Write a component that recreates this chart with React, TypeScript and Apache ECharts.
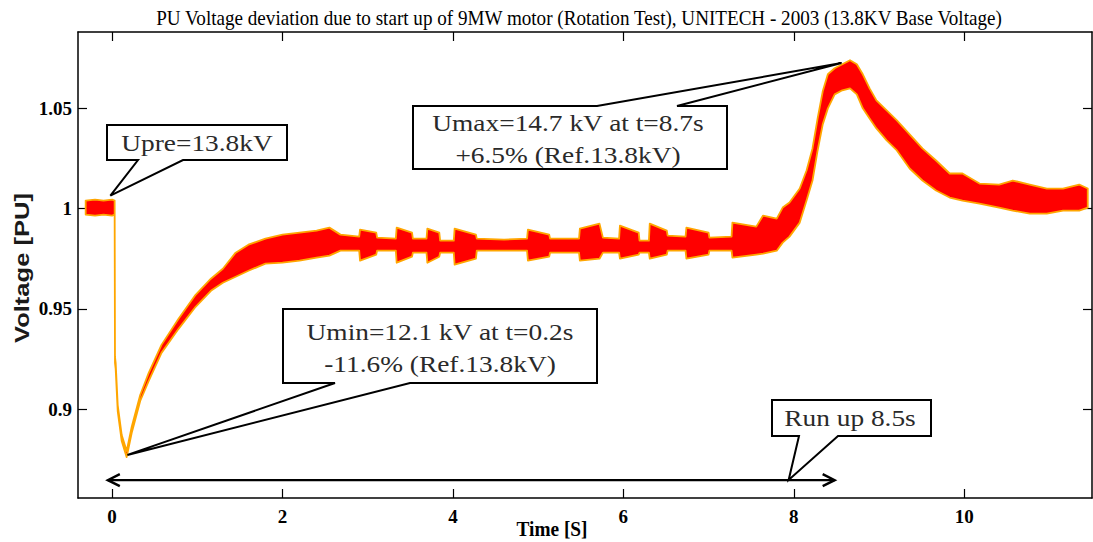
import React, { useEffect, useRef } from "react";
import * as echarts from "echarts";

// ---------- texts ----------
const TITLE =
  "PU Voltage deviation due to start up of 9MW motor (Rotation Test), UNITECH - 2003 (13.8KV Base Voltage)";
const X_NAME = "Time [S]";
const Y_NAME = "Voltage [PU]";

// ---------- axes ----------
const xMin = -0.4;
const xMax = 11.5;
const yMin = 0.8556;
const yMax = 1.0881;
const xTicks = [0, 2, 4, 6, 8, 10];
const yTicks = [0.9, 0.95, 1, 1.05];

// ---------- measured voltage band (upper / lower envelope of the noisy trace) ----------
const time = [
  -0.31, -0.2, -0.1, 0, 0.03, 0.034, 0.042, 0.066, 0.113, 0.171,
  0.23, 0.33, 0.43, 0.58, 0.78, 0.98, 1.16, 1.3, 1.45, 1.6,
  1.8, 2.0, 2.2, 2.4, 2.55, 2.68, 2.9, 2.91, 3.1, 3.11,
  3.33, 3.34, 3.52, 3.53, 3.69, 3.7, 3.84, 3.85, 4.01, 4.02,
  4.27, 4.28, 4.6, 4.87, 4.88, 5.13, 5.14, 5.48, 5.49, 5.72,
  5.76, 5.95, 5.96, 6.18, 6.19, 6.3, 6.31, 6.51, 6.52, 6.73,
  6.74, 7.0, 7.01, 7.27, 7.28, 7.56, 7.64, 7.8, 7.87, 7.95,
  8.07, 8.15, 8.22, 8.28, 8.34, 8.4, 8.48, 8.57, 8.66, 8.74,
  8.81, 8.89, 8.97, 9.09, 9.21, 9.36, 9.51, 9.67, 9.83, 9.98,
  10.18, 10.41, 10.57, 10.77, 10.97, 11.16, 11.35, 11.45,
];
const upper = [
  1.004, 1.0045, 1.004, 1.0045, 1.004, 0.926, 0.923, 0.902, 0.887, 0.879,
  0.891, 0.907, 0.918, 0.932, 0.945, 0.957, 0.965, 0.97, 0.978, 0.982,
  0.985, 0.987, 0.988, 0.989, 0.9905, 0.987, 0.986, 0.9895, 0.988, 0.9855,
  0.985, 0.9905, 0.988, 0.985, 0.985, 0.99, 0.988, 0.984, 0.984, 0.99,
  0.987, 0.985, 0.9845, 0.985, 0.9895, 0.987, 0.985, 0.985, 0.99, 0.9925,
  0.9855, 0.985, 0.9915, 0.988, 0.984, 0.984, 0.9925, 0.989, 0.9865, 0.986,
  0.9905, 0.988, 0.9855, 0.986, 0.993, 0.991, 0.9965, 0.995, 1.0005, 1.003,
  1.01, 1.019, 1.03, 1.045, 1.0585, 1.067, 1.07, 1.072, 1.074, 1.072,
  1.067, 1.06, 1.054, 1.049, 1.044, 1.037, 1.03, 1.024, 1.0175, 1.0175,
  1.0125, 1.012, 1.014, 1.012, 1.01, 1.01, 1.012, 1.01,
];
const lower = [
  0.997, 0.9965, 0.997, 0.9965, 0.997, 0.923, 0.92, 0.899, 0.884, 0.876,
  0.888, 0.904, 0.914, 0.928, 0.94, 0.951, 0.959, 0.963, 0.966, 0.969,
  0.9725, 0.973, 0.974, 0.9755, 0.9765, 0.979, 0.979, 0.974, 0.977, 0.979,
  0.979, 0.973, 0.976, 0.978, 0.978, 0.973, 0.976, 0.978, 0.978, 0.972,
  0.975, 0.979, 0.979, 0.979, 0.974, 0.976, 0.978, 0.978, 0.974, 0.975,
  0.978, 0.978, 0.975, 0.977, 0.978, 0.978, 0.975, 0.977, 0.979, 0.979,
  0.975, 0.977, 0.979, 0.979, 0.9755, 0.977, 0.9775, 0.979, 0.983, 0.986,
  0.993, 1.004, 1.014, 1.029, 1.042, 1.05, 1.057, 1.059, 1.06, 1.057,
  1.05, 1.045, 1.04, 1.034, 1.029, 1.02, 1.014, 1.009, 1.0055, 1.004,
  1.0025, 1.0005, 0.999, 0.9975, 0.9975, 0.999, 0.999, 1.0005,
];

// ---------- annotations (data positions the callouts point to) ----------
const upreTip = [-0.02, 1.0065];
const umaxTip = [8.56, 1.0726];
const uminTip = [0.18, 0.8771];
const runUpTip = [7.94, 0.8646];
const runUpArrowT = [-0.05, 8.48];
const runUpArrowV = 0.8645;

const upreLines = ["Upre=13.8kV"];
const umaxLines = ["Umax=14.7 kV at t=8.7s", "+6.5% (Ref.13.8kV)"];
const uminLines = ["Umin=12.1 kV at t=0.2s", "-11.6% (Ref.13.8kV)"];
const runUpLines = ["Run up 8.5s"];

// ---------- layout (pixels) ----------
const SERIF = '"Liberation Serif", "Times New Roman", serif';
const SANS = '"Liberation Sans", Arial, sans-serif';
const callouts = [
  { lines: upreLines, tip: upreTip, box: [107, 125, 287, 160], side: "bottom", base: [138, 183], cx: 197, cy: [143] },
  { lines: umaxLines, tip: umaxTip, box: [413, 106, 727, 169], side: "top", base: [597, 677], cx: 568, cy: [123, 155] },
  { lines: uminLines, tip: uminTip, box: [283, 309, 597, 383], side: "bottom", base: [335, 410], cx: 440, cy: [332, 364] },
  { lines: runUpLines, tip: runUpTip, box: [772, 400, 931, 436], side: "bottom", base: [799, 838], cx: 850, cy: [418] },
];

function measure(text: string, font: string): number {
  const c = document.createElement("canvas").getContext("2d");
  if (!c) return 1;
  c.font = font;
  return c.measureText(text).width || 1;
}

export default function App() {
  const ref = useRef<HTMLDivElement>(null);

  useEffect(() => {
    document.body.style.margin = "0";
    const chart = echarts.init(ref.current!, null, { renderer: "svg" });

    const axisLabelStyle = {
      color: "#000",
      fontFamily: SERIF,
      fontSize: 19,
      fontWeight: "bold" as const,
    };
    const lineStyle = { color: "#000", width: 1.5 };
    const tickStyle = { color: "#000", width: 1.2 };

    chart.setOption({
      animation: false,
      backgroundColor: "#fff",
      grid: { left: 78, right: 1, top: 32, bottom: 44, containLabel: false },
      xAxis: [
        {
          type: "value",
          min: xMin,
          max: xMax,
          position: "bottom",
          axisLine: { show: true, onZero: false, lineStyle },
          axisTick: { show: true, inside: true, length: 9, customValues: xTicks, lineStyle: tickStyle },
          axisLabel: { show: true, customValues: xTicks, margin: 9, ...axisLabelStyle },
          splitLine: { show: false },
        },
        {
          type: "value",
          min: xMin,
          max: xMax,
          position: "top",
          axisLine: { show: true, onZero: false, lineStyle },
          axisTick: { show: true, inside: true, length: 9, customValues: xTicks, lineStyle: tickStyle },
          axisLabel: { show: false },
          splitLine: { show: false },
        },
      ],
      yAxis: [
        {
          type: "value",
          min: yMin,
          max: yMax,
          position: "left",
          axisLine: { show: true, onZero: false, lineStyle },
          axisTick: { show: true, inside: true, length: 9, customValues: yTicks, lineStyle: tickStyle },
          axisLabel: { show: true, customValues: yTicks, margin: 6, ...axisLabelStyle },
          splitLine: { show: false },
        },
        {
          type: "value",
          min: yMin,
          max: yMax,
          position: "right",
          axisLine: { show: true, onZero: false, lineStyle },
          axisTick: { show: true, inside: true, length: 9, customValues: yTicks, lineStyle: tickStyle },
          axisLabel: { show: false },
          splitLine: { show: false },
        },
      ],
      series: [
        {
          type: "custom",
          name: "Voltage",
          xAxisIndex: 0,
          yAxisIndex: 0,
          clip: true,
          data: time.map((t, i) => [t, upper[i], lower[i]]),
          encode: { x: 0, y: [1, 2] },
          renderItem: (params: any, api: any) => {
            if (params.dataIndex !== 0) return null;
            const pts: number[][] = [];
            for (let i = 0; i < time.length; i++) pts.push(api.coord([time[i], upper[i]]));
            for (let i = time.length - 1; i >= 0; i--) pts.push(api.coord([time[i], lower[i]]));
            return {
              type: "polygon",
              shape: { points: pts },
              style: { fill: "#ff0000", stroke: "#ffa600", lineWidth: 1.8, lineJoin: "round" },
            };
          },
        },
      ],
    });

    const toPx = (p: number[]) =>
      chart.convertToPixel({ xAxisIndex: 0, yAxisIndex: 0 }, p) as number[];

    const boxFont = `24px ${SERIF}`;
    const boxScale = 272 / measure(umaxLines[0], boxFont);
    const titleFont = `20px ${SERIF}`;
    const titleScale = 848 / measure(TITLE, titleFont);
    const yFont = `bold 20px ${SANS}`;
    const yScale = 150 / measure(Y_NAME, yFont);
    const xFont = `bold 20px ${SERIF}`;
    const xScale = 71 / measure(X_NAME, xFont);

    const graphics: any[] = [];

    graphics.push({
      type: "text",
      x: 579,
      y: 18,
      scaleX: titleScale,
      z: 120,
      style: { text: TITLE, font: titleFont, fill: "#000", align: "center", verticalAlign: "middle" },
    });
    graphics.push({
      type: "text",
      x: 22,
      y: 268,
      rotation: Math.PI / 2,
      scaleX: yScale,
      z: 120,
      style: { text: Y_NAME, font: yFont, fill: "#1a1a1a", align: "center", verticalAlign: "middle" },
    });
    graphics.push({
      type: "text",
      x: 552,
      y: 529,
      scaleX: xScale,
      z: 120,
      style: { text: X_NAME, font: xFont, fill: "#000", align: "center", verticalAlign: "middle" },
    });

    // run-up double arrow
    const aL = toPx([runUpArrowT[0], runUpArrowV]);
    const aR = toPx([runUpArrowT[1], runUpArrowV]);
    const arrowStyle = { stroke: "#000", lineWidth: 2.4, fill: "none", lineJoin: "miter" };
    graphics.push({ type: "line", z: 110, shape: { x1: aL[0], y1: aL[1], x2: aR[0], y2: aR[1] }, style: arrowStyle });
    graphics.push({
      type: "polyline",
      z: 110,
      shape: { points: [[aL[0] + 12, aL[1] - 6], [aL[0], aL[1]], [aL[0] + 12, aL[1] + 6]] },
      style: arrowStyle,
    });
    graphics.push({
      type: "polyline",
      z: 110,
      shape: { points: [[aR[0] - 12, aR[1] - 6], [aR[0], aR[1]], [aR[0] - 12, aR[1] + 6]] },
      style: arrowStyle,
    });

    // callouts
    callouts.forEach((c) => {
      const [x1, y1, x2, y2] = c.box;
      const tip = toPx(c.tip);
      const pts =
        c.side === "bottom"
          ? [[x1, y1], [x2, y1], [x2, y2], [c.base[1], y2], tip, [c.base[0], y2], [x1, y2]]
          : [[x1, y1], [c.base[0], y1], tip, [c.base[1], y1], [x2, y1], [x2, y2], [x1, y2]];
      graphics.push({
        type: "polygon",
        z: 112,
        shape: { points: pts },
        style: { fill: "#fff", stroke: "#000", lineWidth: 2, lineJoin: "miter" },
      });
      c.lines.forEach((line, i) => {
        graphics.push({
          type: "text",
          z: 114,
          x: c.cx,
          y: c.cy[i],
          scaleX: boxScale,
          style: { text: line, font: boxFont, fill: "#2a2a2a", align: "center", verticalAlign: "middle" },
        });
      });
    });

    chart.setOption({ graphic: graphics });

    return () => chart.dispose();
  }, []);

  return (
    <div
      ref={ref}
      style={{ position: "absolute", left: 0, top: 0, width: 1093, height: 542 }}
    />
  );
}
